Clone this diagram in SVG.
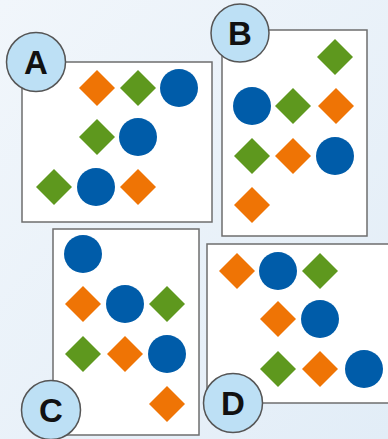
<svg xmlns="http://www.w3.org/2000/svg" width="388" height="439" viewBox="0 0 388 439">
<defs>
<linearGradient id="bg" x1="0" y1="0" x2="1" y2="1">
<stop offset="0" stop-color="#f1f6fb"/>
<stop offset="1" stop-color="#e2edf7"/>
</linearGradient>
<style>
.card{fill:#ffffff;stroke:#6e6e6e;stroke-width:1.5}
.lab{fill:#bde0f5;stroke:#555555;stroke-width:1.5}
.lt{font-family:"Liberation Sans",Arial,sans-serif;font-weight:bold;font-size:33px;fill:#111111;text-anchor:middle}
.o{fill:#ef7405}
.g{fill:#5e981e}
.b{fill:#005ca9}
</style>
<path id="dm" d="M0,-18 L18,0 L0,18 L-18,0 Z"/>
</defs>
<rect width="388" height="439" fill="url(#bg)"/>

<g id="panelA">
<rect class="card" x="22" y="62" width="190" height="160"/>
<use href="#dm" class="o" x="97" y="88"/>
<use href="#dm" class="g" x="138" y="88"/>
<circle class="b" cx="179" cy="88" r="19"/>
<use href="#dm" class="g" x="97" y="137"/>
<circle class="b" cx="138" cy="137" r="19"/>
<use href="#dm" class="g" x="54" y="187"/>
<circle class="b" cx="96" cy="187" r="19"/>
<use href="#dm" class="o" x="138" y="187"/>
<circle class="lab" cx="36" cy="62" r="29.5"/>
<text class="lt" x="36" y="74">A</text>
</g>

<g id="panelB">
<rect class="card" x="222" y="30" width="145" height="206"/>
<use href="#dm" class="g" x="335" y="57"/>
<circle class="b" cx="252" cy="106" r="19"/>
<use href="#dm" class="g" x="293" y="106"/>
<use href="#dm" class="o" x="336" y="106"/>
<use href="#dm" class="g" x="252" y="156"/>
<use href="#dm" class="o" x="293" y="156"/>
<circle class="b" cx="335" cy="156" r="19"/>
<use href="#dm" class="o" x="252" y="205"/>
<circle class="lab" cx="240" cy="33" r="29"/>
<text class="lt" x="240" y="45">B</text>
</g>

<g id="panelC">
<rect class="card" x="53" y="229" width="146" height="206"/>
<circle class="b" cx="83" cy="254" r="19"/>
<use href="#dm" class="o" x="83" y="304"/>
<circle class="b" cx="125" cy="304" r="19"/>
<use href="#dm" class="g" x="167" y="304"/>
<use href="#dm" class="g" x="83" y="354"/>
<use href="#dm" class="o" x="125" y="354"/>
<circle class="b" cx="167" cy="354" r="19"/>
<use href="#dm" class="o" x="167" y="404"/>
<circle class="lab" cx="51" cy="410" r="29.5"/>
<text class="lt" x="51" y="422">C</text>
</g>

<g id="panelD">
<rect class="card" x="207" y="244" width="195" height="159"/>
<use href="#dm" class="o" x="237" y="271"/>
<circle class="b" cx="278" cy="271" r="19"/>
<use href="#dm" class="g" x="320" y="271"/>
<use href="#dm" class="o" x="278" y="319"/>
<circle class="b" cx="320" cy="319" r="19"/>
<use href="#dm" class="g" x="278" y="369"/>
<use href="#dm" class="o" x="320" y="369"/>
<circle class="b" cx="364" cy="369" r="19"/>
<circle class="lab" cx="233" cy="403" r="29.5"/>
<text class="lt" x="233" y="415">D</text>
</g>

<g id="connectors"/>
</svg>
